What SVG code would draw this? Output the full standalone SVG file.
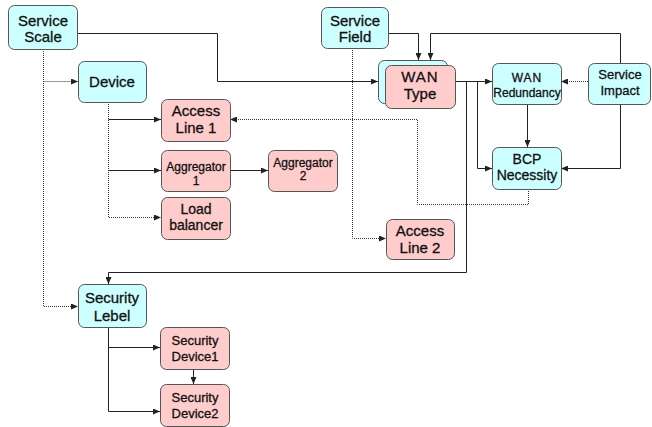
<svg xmlns="http://www.w3.org/2000/svg" width="652" height="427" viewBox="0 0 652 427">
  <defs>
    <marker id="arrow" markerWidth="7" markerHeight="6" refX="7" refY="3" orient="auto" markerUnits="userSpaceOnUse">
      <path d="M0,0 L7,3 L0,6 z" fill="#222"/>
    </marker>
    <style>
      .cyan { fill: #ccffff; stroke: #555; stroke-width: 1; }
      .pink { fill: #ffcccc; stroke: #555; stroke-width: 1; }
      text { font-family: "Liberation Sans", Arial, sans-serif; fill: #111; stroke: #111; stroke-width: 0.3; text-anchor: middle; }
      .t15 { font-size: 15px; }
      .t14 { font-size: 14px; }
      .t13 { font-size: 13px; }
      .t12 { font-size: 12px; }
      .line { fill: none; stroke: #222; stroke-width: 1; }
      .dot { fill: none; stroke: #333; stroke-width: 1; stroke-dasharray: 1 1; }
    </style>
  </defs>
  <rect width="652" height="427" fill="#ffffff"/>

  <!-- connectors -->
  <g id="connectors">
    <path class="line" d="M77.5,33.5 H217.5 V81.5 H378" marker-end="url(#arrow)"/>
    <path class="dot" d="M43.5,49 V306.5 H78" marker-end="url(#arrow)"/>
    <path class="dot" d="M43.5,81.5 H78" marker-end="url(#arrow)"/>
    <path class="dot" d="M108.5,102 V217.5 H161" marker-end="url(#arrow)"/>
    <path class="line" d="M108.5,119.5 H161" marker-end="url(#arrow)"/>
    <path class="line" d="M108.5,170.5 H161" marker-end="url(#arrow)"/>
    <path class="line" d="M230,170.5 H268" marker-end="url(#arrow)"/>
    <path class="line" d="M388,33.5 H418.5 V60" marker-end="url(#arrow)"/>
    <path class="line" d="M620.5,63 V33.5 H430.5 V60" marker-end="url(#arrow)"/>
    <path class="dot" d="M352.5,48 V238.5 H386" marker-end="url(#arrow)"/>
    <path class="line" d="M455,81.5 H492" marker-end="url(#arrow)"/>
    <path class="line" d="M477.5,81.5 V168.5 H492" marker-end="url(#arrow)"/>
    <path class="line" d="M466.5,81.5 V272.5 H108.5 V284" marker-end="url(#arrow)"/>
    <path class="line" d="M527.5,104 V147" marker-end="url(#arrow)"/>
    <path class="dot" d="M588,81.5 H561" marker-end="url(#arrow)"/>
    <path class="line" d="M620.5,104 V168.5 H561" marker-end="url(#arrow)"/>
    <path class="dot" d="M528.5,189 V204.5 H417.5 V119.5 H230" marker-end="url(#arrow)"/>
    <path class="line" d="M108.5,327 V411.5 H160" marker-end="url(#arrow)"/>
    <path class="line" d="M108.5,347.5 H160" marker-end="url(#arrow)"/>
    <path class="line" d="M193.5,369 V384" marker-end="url(#arrow)"/>
  </g>

  <!-- nodes -->
  <g id="service-scale">
    <rect class="cyan" x="8.5" y="5.5" width="69" height="44" rx="6"/>
    <text class="t15" x="43" y="26">Service</text>
    <text class="t15" x="43" y="42">Scale</text>
  </g>
  <g id="device">
    <rect class="cyan" x="78.5" y="61.5" width="68" height="41" rx="6"/>
    <text class="t15" x="112" y="87">Device</text>
  </g>
  <g id="service-field">
    <rect class="cyan" x="321.5" y="7.5" width="67" height="41" rx="6"/>
    <text class="t15" x="355" y="26">Service</text>
    <text class="t15" x="355" y="42">Field</text>
  </g>
  <g id="wan-type">
    <rect class="cyan" x="378.5" y="60.5" width="69" height="43" rx="6"/>
    <rect class="pink" x="385.5" y="65.5" width="70" height="43" rx="6"/>
    <text class="t15" x="420" y="82" letter-spacing="1">WAN</text>
    <text class="t15" x="420" y="99">Type</text>
  </g>
  <g id="wan-redundancy">
    <rect class="cyan" x="492.5" y="63.5" width="69" height="41" rx="6"/>
    <text class="t12" x="527" y="82" letter-spacing="1">WAN</text>
    <text class="t12" x="527" y="97">Redundancy</text>
  </g>
  <g id="service-impact">
    <rect class="cyan" x="588.5" y="63.5" width="62" height="41" rx="6"/>
    <text class="t13" x="620" y="79">Service</text>
    <text class="t13" x="620" y="95">Impact</text>
  </g>
  <g id="bcp-necessity">
    <rect class="cyan" x="492.5" y="147.5" width="69" height="42" rx="6"/>
    <text class="t14" x="527" y="164">BCP</text>
    <text class="t14" x="527" y="180">Necessity</text>
  </g>
  <g id="access-line-1">
    <rect class="pink" x="161.5" y="99.5" width="69" height="42" rx="6"/>
    <text class="t15" x="196" y="116">Access</text>
    <text class="t15" x="196" y="133">Line 1</text>
  </g>
  <g id="aggregator-1">
    <rect class="pink" x="161.5" y="150.5" width="69" height="41" rx="6"/>
    <text class="t12" x="196" y="171">Aggregator</text>
    <text class="t12" x="196" y="185">1</text>
  </g>
  <g id="aggregator-2">
    <rect class="pink" x="268.5" y="150.5" width="69" height="41" rx="6"/>
    <text class="t12" x="303" y="167">Aggregator</text>
    <text class="t12" x="303" y="180">2</text>
  </g>
  <g id="load-balancer">
    <rect class="pink" x="161.5" y="197.5" width="69" height="42" rx="6"/>
    <text class="t14" x="196" y="214">Load</text>
    <text class="t14" x="196" y="230">balancer</text>
  </g>
  <g id="access-line-2">
    <rect class="pink" x="386.5" y="219.5" width="68" height="40" rx="6"/>
    <text class="t15" x="420" y="236">Access</text>
    <text class="t15" x="420" y="253">Line 2</text>
  </g>
  <g id="security-lebel">
    <rect class="cyan" x="78.5" y="284.5" width="68" height="43" rx="6"/>
    <text class="t15" x="112" y="303">Security</text>
    <text class="t15" x="112" y="321">Lebel</text>
  </g>
  <g id="security-device-1">
    <rect class="pink" x="160.5" y="327.5" width="69" height="42" rx="6"/>
    <text class="t13" x="195" y="345">Security</text>
    <text class="t13" x="195" y="361">Device1</text>
  </g>
  <g id="security-device-2">
    <rect class="pink" x="160.5" y="384.5" width="69" height="42" rx="6"/>
    <text class="t13" x="195" y="402">Security</text>
    <text class="t13" x="195" y="418">Device2</text>
  </g>
</svg>
